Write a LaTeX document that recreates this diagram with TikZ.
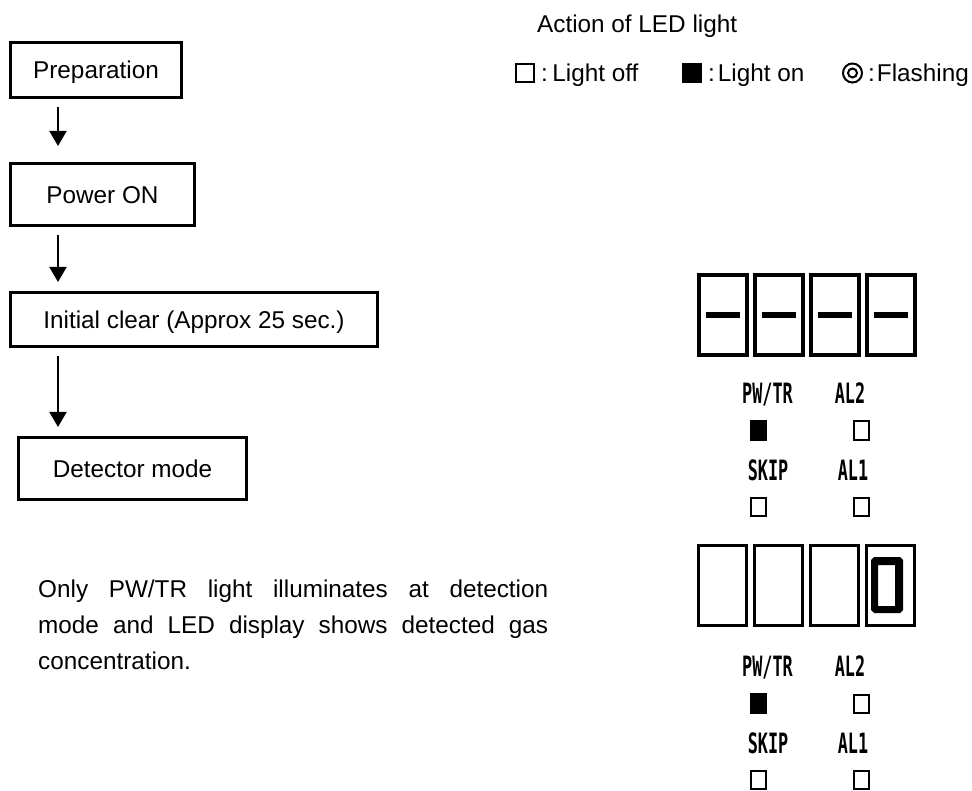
\documentclass[tikz,border=0pt]{standalone}
\usepackage{fontspec}
\setmainfont{Liberation Sans}
\newfontfamily\ledfont[FakeStretch=0.6]{DejaVu Sans Mono}
\usetikzlibrary{arrows.meta}
\newcommand\mainfs{\fontsize{24.3pt}{28pt}\selectfont}
\begin{document}
\begin{tikzpicture}[x=1pt,y=-1pt,
  flow/.style={draw,line width=3pt,inner sep=0pt,font=\mainfs,text height=17.5pt,text depth=0pt},
  arr/.style={line width=2pt,-{Triangle[width=17pt,length=15pt]}},
  digtop/.style={draw,line width=4pt,minimum width=48pt,minimum height=80pt,inner sep=0pt},
  digbot/.style={draw,line width=3pt,minimum width=48pt,minimum height=80pt,inner sep=0pt},
  dashseg/.style={fill,minimum width=34pt,minimum height=6pt,inner sep=0pt},
  ledlbl/.style={font=\ledfont\bfseries\fontsize{28pt}{28pt}\selectfont,inner sep=0pt,anchor=base},
  ledoff/.style={draw,line width=2pt,minimum width=15pt,minimum height=18pt,inner sep=0pt},
  ledon/.style={fill,minimum width=17pt,minimum height=21pt,inner sep=0pt},
  txt/.style={font=\mainfs,inner sep=0pt,anchor=base west}]
\useasboundingbox (0,0) rectangle (972,791);
\fill[white] (0,0) rectangle (972,791);

% flow chart
\node[flow,minimum width=171pt,minimum height=55pt] (prep) at (96,70) {Preparation};
\node[flow,minimum width=184pt,minimum height=62pt] (pow) at (102.5,194.5) {Power ON};
\node[flow,minimum width=367pt,minimum height=54pt] (init) at (194,319.5) {Initial clear (Approx 25 sec.)};
\node[flow,minimum width=228pt,minimum height=62pt] (det) at (132.5,468.5) {Detector mode};
\coordinate (ax) at (58,0);
\draw[arr,shorten <=8pt,shorten >=16pt] (prep.south -| ax) -- (pow.north -| ax);
\draw[arr,shorten <=8pt,shorten >=9pt] (pow.south -| ax) -- (init.north -| ax);
\draw[arr,shorten <=8pt,shorten >=9pt] (init.south -| ax) -- (det.north -| ax);

% paragraph
\node[txt] (p1) at (38,597) {\makebox[510pt][s]{Only PW/TR light illuminates at detection}};
\node[txt] (p2) at (38,633) {\makebox[510pt][s]{mode and LED display shows detected gas}};
\node[txt] (p3) at (38,669) {concentration.};

% legend
\node[txt] (title) at (537,33) {Action of LED light};
\node[draw,line width=2pt,minimum width=18pt,minimum height=18pt,inner sep=0pt] (lsq1) at (525,73) {};
\node[txt] (l1) at (541,82) {:\hspace{4.5pt}Light off};
\node[fill,minimum width=20pt,minimum height=20pt,inner sep=0pt] (lsq2) at (692,73) {};
\node[txt] (l2) at (708,82) {:\hspace{3pt}Light on};
\node[circle,draw,line width=2pt,minimum size=19pt,inner sep=0pt] (lc1) at (852.5,73) {};
\node[circle,draw,line width=2pt,minimum size=9pt,inner sep=0pt] (lc2) at (lc1.center) {};
\node[txt] (l3) at (868,82) {:\hspace{2pt}Flashing};

% top display
\foreach \i/\x in {1/723,2/779,3/835,4/891}{
  \node[digtop] (t\i) at (\x,315) {};
  \node[dashseg] (d\i) at (t\i.center) {};
}
% bottom display
\foreach \i/\x in {1/722.5,2/778.5,3/834.5,4/890.5}{
  \node[digbot] (b\i) at (\x,585.5) {};
}
\fill[even odd rule] (874,557) -- (900,557) -- (903,560) -- (903,610) -- (900,613) -- (874,613) -- (871,610) -- (871,560) -- cycle
  (878,565) rectangle (895,606);

% LED groups
\foreach \g/\dy in {a/0,b/273}{
  \node[ledlbl] (pw\g) at (767.5,403+\dy) {PW/TR};
  \node[ledlbl] (alb\g) at (850,403+\dy) {AL2};
  \node[ledon] (s1\g) at (758.5,430.5+\dy) {};
  \node[ledoff] (s2\g) at (861,430.5+\dy) {};
  \node[ledlbl] (sk\g) at (768,480+\dy) {SKIP};
  \node[ledlbl] (ala\g) at (853,480+\dy) {AL1};
  \node[ledoff] (s3\g) at (758.5,506.5+\dy) {};
  \node[ledoff] (s4\g) at (861,506.5+\dy) {};
}
\end{tikzpicture}
\end{document}
